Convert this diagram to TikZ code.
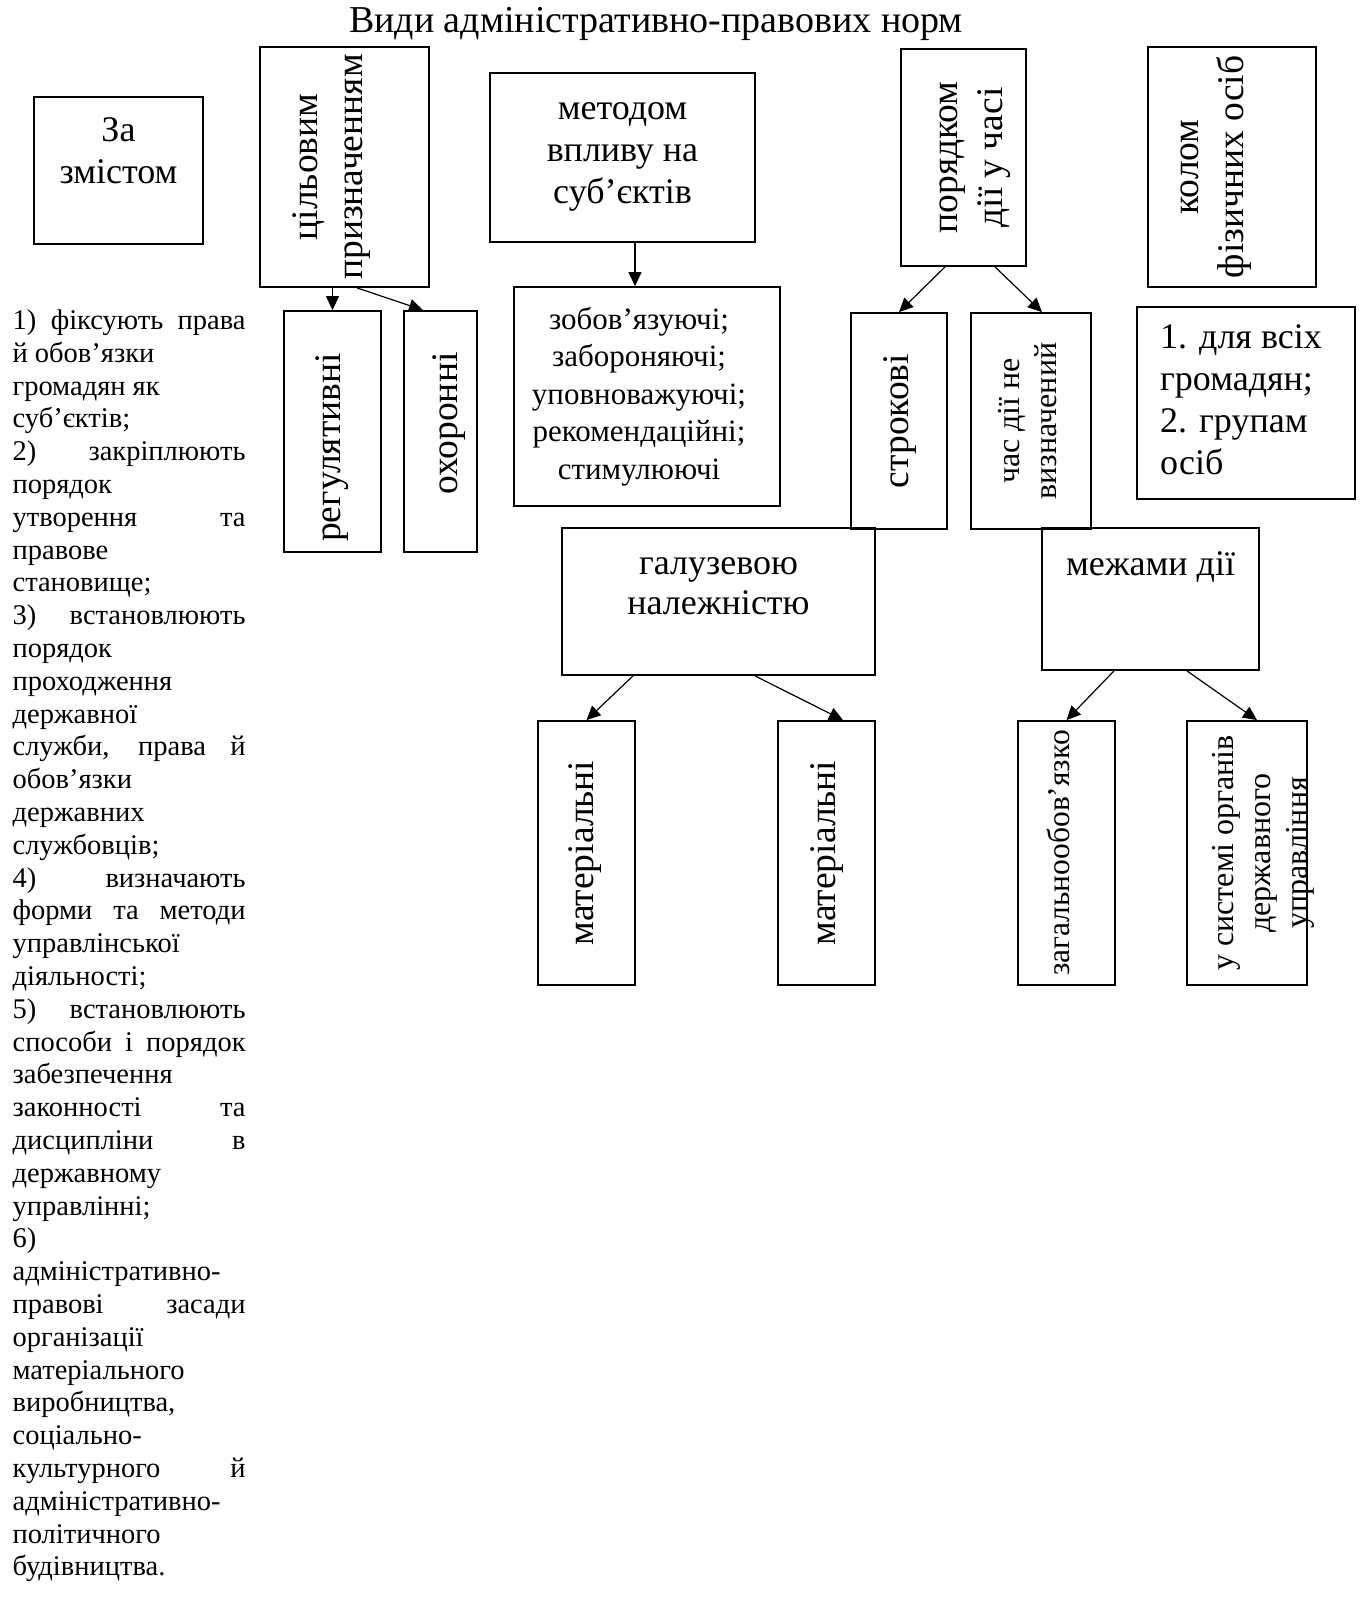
\documentclass[tikz,border=0pt]{standalone}
\usepackage{fontspec}
\setmainfont{Liberation Serif}
\usepackage{graphicx}
\usetikzlibrary{arrows.meta}

\newcommand{\htext}[1]{\begin{tabular}{@{}c@{}}#1\end{tabular}}
\newcommand{\vtext}[1]{\rotatebox{90}{\begin{tabular}{@{}c@{}}#1\end{tabular}}}
\newcommand{\mvtext}[3]{\makebox[0pt]{\hspace*{#1}\hspace*{#1}\raisebox{#2}[\height][\depth]{#3}}}
\newcommand{\jl}[1]{\hbox to 233pt{#1}}

\begin{document}
\begin{tikzpicture}[->,>={Triangle[length=14pt,width=13pt]},x=1pt,y=-1pt,line width=1.2pt,
  box node/.style={rectangle,draw,line width=1.8pt,inner sep=0pt},
  box text/.style={font=\fontsize{36}{42}\selectfont},
  side text/.style={font=\fontsize{37.5}{45}\selectfont},
  thin text/.style={font=\fontsize{32}{37}\selectfont}]

  \useasboundingbox (0,0) rectangle (1365,1612);

  \node (title) at (656,24) [font=\fontsize{38}{44}\selectfont] {Види адміністративно-правових норм};

  % top row
  \node[box node,box text,minimum width=169pt,minimum height=147pt] (zmist) at (118.5,170.5) {\mvtext{0pt}{16pt}{\htext{За\\змістом}}};
  \node[box node,side text,minimum width=169pt,minimum height=240pt] (cil) at (344.5,167) {\mvtext{-14pt}{0pt}{\vtext{цільовим\\призначенням}}};
  \node[box node,box text,minimum width=265pt,minimum height=169pt] (metod) at (622.5,157.5) {\mvtext{0pt}{4.5pt}{\htext{методом\\впливу на\\суб’єктів}}};
  \node[box node,side text,minimum width=125pt,minimum height=217pt] (poriad) at (963.5,157.5) {\mvtext{7pt}{0pt}{\vtext{порядком\\дії у часі}}};
  \node[box node,side text,minimum width=168pt,minimum height=240pt] (kolom) at (1232,167) {\mvtext{-20pt}{0pt}{\vtext{колом\\фізичних осіб}}};

  % second row
  \node[box node,side text,minimum width=97pt,minimum height=241pt] (reg) at (332.5,431.5) {\mvtext{-1.5pt}{-16pt}{\vtext{регулятивні}}};
  \node[box node,side text,minimum width=73pt,minimum height=241pt] (okh) at (440.5,431.5) {\mvtext{8pt}{8pt}{\vtext{охоронні}}};
  \node[box node,font=\fontsize{31}{37.5}\selectfont,minimum width=266pt,minimum height=219pt] (vydy) at (647,396.5) {\mvtext{-8pt}{0pt}{\htext{зобов’язуючі;\\забороняючі;\\уповноважуючі;\\рекомендаційні;\\стимулюючі}}};
  \node[box node,side text,minimum width=96pt,minimum height=216pt] (strok) at (899,421) {\vtext{строкові}};
  \node[box node,thin text,minimum width=120pt,minimum height=216pt] (chas) at (1031,421) {\vtext{час дії не\\визначений}};
  \node[box node,box text,minimum width=218pt,minimum height=192pt] (grup) at (1246,403) {\mvtext{-5pt}{0pt}{\begin{tabular}{@{}l@{}}1. для всіх\\громадян;\\2. групам\\осіб\end{tabular}}};

  % third row
  \node[box node,font=\fontsize{36}{40}\selectfont,minimum width=313pt,minimum height=147pt] (galuz) at (718.5,601.5) {\mvtext{0pt}{15.5pt}{\htext{галузевою\\належністю}}};
  \node[box node,box text,minimum width=217pt,minimum height=142pt] (mezh) at (1150.5,599) {\mvtext{0pt}{32pt}{\htext{межами дії}}};

  % bottom row
  \node[box node,side text,minimum width=97pt,minimum height=264pt] (mat1) at (586.5,853) {\mvtext{-2.5pt}{0pt}{\vtext{матеріальні}}};
  \node[box node,side text,minimum width=97pt,minimum height=264pt] (mat2) at (826.5,853) {\vtext{матеріальні}};
  \node[box node,font=\fontsize{31.5}{37}\selectfont,minimum width=97pt,minimum height=264pt] (zag) at (1066.5,853) {\mvtext{-4pt}{0pt}{\vtext{загальнообов’язко}}};
  \node[box node,thin text,minimum width=120pt,minimum height=264pt] (syst) at (1247,853) {\mvtext{16pt}{0pt}{\vtext{у системі органів\\державного\\управління}}};

  % list under the first box
  \node[anchor=north west,inner sep=0pt,font=\fontsize{28.5}{32.8}\selectfont] (list) at (12,306) {%
    \begin{tabular}[t]{@{}l@{}}
    \jl{1) фіксують права}\\
    й обов’язки\\
    громадян як\\
    суб’єктів;\\
    \jl{2) закріплюють}\\
    порядок\\
    \jl{утворення та}\\
    правове\\
    становище;\\
    \jl{3) встановлюють}\\
    порядок\\
    проходження\\
    державної\\
    \jl{служби, права й}\\
    обов’язки\\
    державних\\
    службовців;\\
    \jl{4) визначають}\\
    \jl{форми та методи}\\
    управлінської\\
    діяльності;\\
    \jl{5) встановлюють}\\
    \jl{способи і порядок}\\
    забезпечення\\
    \jl{законності та}\\
    \jl{дисципліни в}\\
    державному\\
    управлінні;\\
    6)\\
    адміністративно-\\
    \jl{правові засади}\\
    організації\\
    матеріального\\
    виробництва,\\
    соціально-\\
    \jl{культурного й}\\
    адміністративно-\\
    політичного\\
    будівництва.
    \end{tabular}};

  \path
    (cil.south -| reg.north) edge (reg.north)
    ([xshift=12.5pt]cil.south) edge ([xshift=-17.5pt]okh.north)
    ([xshift=12.5pt]metod.south) edge ([xshift=-12pt]vydy.north)
    ([xshift=-18.5pt]poriad.south) edge (strok.north)
    ([xshift=31.5pt]poriad.south) edge ([xshift=11pt]chas.north)
    ([xshift=-85.5pt]galuz.south) edge (mat1.north)
    ([xshift=36.5pt]galuz.south) edge ([xshift=16.5pt]mat2.north)
    ([xshift=-36.5pt]mezh.south) edge (zag.north)
    ([xshift=36.5pt]mezh.south) edge ([xshift=10pt]syst.north);
\end{tikzpicture}
\end{document}
